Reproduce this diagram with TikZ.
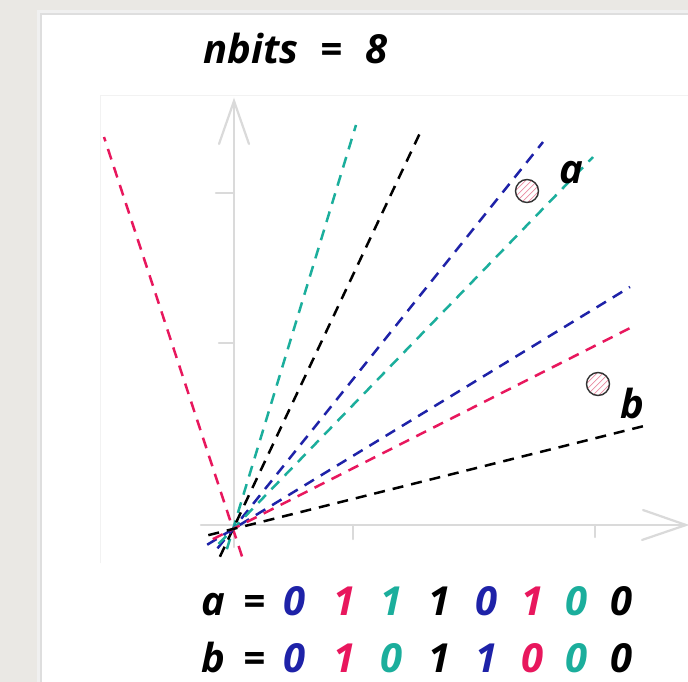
\documentclass[tikz,border=0pt]{standalone}
\usepackage{fontspec}
\setmainfont{Open Sans}
\usetikzlibrary{calc}
\definecolor{paper}{HTML}{EAE8E4}
\definecolor{hblue}{HTML}{1E22A8}
\definecolor{hred}{HTML}{E8175D}
\definecolor{hteal}{HTML}{1BAE9C}
\definecolor{axisgray}{HTML}{DADADA}
\definecolor{hatch}{HTML}{E98AA2}
\tikzset{
  hplane/.style={line width=2.5pt, dash pattern=on 11pt off 8pt},
  axisline/.style={draw=axisgray, line width=2.2pt, line cap=round},
  bigtxt/.style={inner sep=0pt, anchor=base, font=\fontsize{40}{48}\selectfont\itshape\bfseries},
  pointcirc/.style={draw=black!80, line width=1.4pt}
}
\begin{document}
\begin{tikzpicture}[x=1pt,y=-1pt]
\useasboundingbox (0,0) rectangle (688,682);
% paper and card
\fill[paper] (0,0) rectangle (688,682);
\fill[black!10] (39,12) rectangle (688,682);
\fill[black!6] (37,10) rectangle (688,682);
\fill[black!13] (40,13) rectangle (688,682);
\fill[white] (42,15) rectangle (688,682);
% faint plot area
\draw[black!5, line width=0.8pt] (100,563) -- (100,95) -- (688,95);
% axes
\draw[axisline] (234,547) -- (234,101);
\draw[axisline] (219,144) -- (234,101) -- (249,144);
\draw[axisline] (216,193) -- (234,193);
\draw[axisline] (219,343) -- (234,343);
\draw[axisline] (201,525) -- (686,525);
\draw[axisline] (643,510) -- (686,525) -- (642,540);
\draw[axisline] (353,525) -- (353,539);
\draw[axisline] (595,525) -- (595,537);
% origin
\coordinate (O) at (233,529);
\coordinate (t1) at (104,137);
\coordinate (t2) at (356,125);
\coordinate (t3) at (420,133);
\coordinate (t4) at (543,142);
\coordinate (t5) at (593,157);
\coordinate (t6) at (630,287);
\coordinate (t7) at (636,325);
\coordinate (t8) at (644,426);
\draw[hplane, hred]   ($(O)!-0.07!(t1)$) -- (t1);
\draw[hplane, hteal]  ($(O)!-0.05!(t2)$) -- (t2);
\draw[hplane, black]  ($(O)!-0.07!(t3)$) -- (t3);
\draw[hplane, hblue]  ($(O)!-0.05!(t4)$) -- (t4);
\draw[hplane, hteal]  ($(O)!-0.04!(t5)$) -- (t5);
\draw[hplane, hblue]  ($(O)!-0.065!(t6)$) -- (t6);
\draw[hplane, hred]   ($(O)!-0.05!(t7)$) -- (t7);
\draw[hplane, black]  ($(O)!-0.06!(t8)$) -- (t8);
% points
\foreach \cx/\cy/\nm in {527/191/pa, 598/384/pb}{
  \fill[white] (\cx,\cy) circle (11.5pt);
  \begin{scope}
    \clip (\cx,\cy) circle (11.5pt);
    \foreach \k in {-24,-18,...,24}
      \draw[hatch, line width=0.7pt] (\cx+\k-16,\cy+16) -- (\cx+\k+16,\cy-16);
  \end{scope}
  \draw[pointcirc] (\cx,\cy) circle (11.5pt) coordinate (\nm);
}
\node[bigtxt] (la) at (571,183) {a};
\node[bigtxt] (lb) at (632,418) {b};
% title
\node[bigtxt] (t-n) at (251,64) {nbits};
\node[bigtxt] (t-e) at (332,64) {=};
\node[bigtxt] (t-8) at (377,64) {8};
% bit strings
\node[bigtxt] (ra) at (213,615) {a};
\node[bigtxt] (rae) at (255,615) {=};
\node[bigtxt] (rb) at (213,672) {b};
\node[bigtxt] (rbe) at (255,672) {=};
\foreach \x/\c/\d [count=\i] in {295/hblue/0,345/hred/1,392/hteal/1,440/black/1,487/hblue/0,533/hred/1,577/hteal/0,622/black/0}
  \node[bigtxt, text=\c] (a\i) at (\x,615) {\d};
\foreach \x/\c/\d [count=\i] in {295/hblue/0,345/hred/1,392/hteal/0,440/black/1,487/hblue/1,533/hred/0,577/hteal/0,622/black/0}
  \node[bigtxt, text=\c] (b\i) at (\x,672) {\d};
\end{tikzpicture}
\end{document}
